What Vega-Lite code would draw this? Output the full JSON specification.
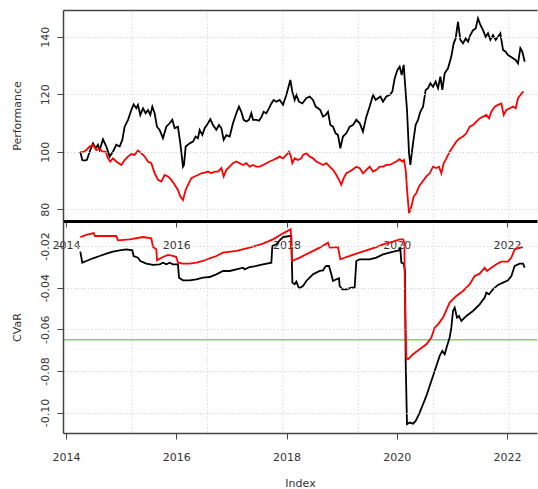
{
  "$schema": "https://vega.github.io/schema/vega-lite/v6.json",
  "background": "white",
  "padding": {"left": 11, "top": 9, "right": 0, "bottom": 0},
  "spacing": 0,
  "bounds": "flush",
  "config": {
    "font": "DejaVu Sans",
    "view": {"stroke": null},
    "axis": {
      "labelFont": "DejaVu Sans", "titleFont": "DejaVu Sans",
      "labelFontSize": 11, "titleFontSize": 11,
      "labelColor": "#333", "titleColor": "#333", "titleFontWeight": "normal",
      "tickColor": "#444", "domainColor": "#444", "domainWidth": 1.5, "tickSize": 6,
      "gridColor": "#d9d9d9", "gridDash": [1.5, 2]
    }
  },
  "datasets": {
    "vgrid": [{"g": 2015.197}, {"g": 2016.565}, {"g": 2017.933}, {"g": 2019.3}, {"g": 2020.668}, {"g": 2022.036}],
    "limit": [{"level": -0.065}],
    "perfA": [
      {"date":2014.26,"value":100.0},{"date":2014.296,"value":97.1},{"date":2014.339,"value":96.9},{"date":2014.381,"value":97.2},
      {"date":2014.429,"value":100.0},{"date":2014.49,"value":102.9},{"date":2014.538,"value":101.2},{"date":2014.58,"value":102.4},
      {"date":2014.611,"value":100.6},{"date":2014.671,"value":104.3},{"date":2014.732,"value":101.8},{"date":2014.792,"value":98.3},
      {"date":2014.852,"value":100.0},{"date":2014.913,"value":102.4},{"date":2014.973,"value":101.8},{"date":2015.022,"value":104.1},
      {"date":2015.064,"value":108.7},{"date":2015.125,"value":111.1},{"date":2015.185,"value":114.5},{"date":2015.227,"value":116.5},
      {"date":2015.276,"value":115.1},{"date":2015.306,"value":116.3},{"date":2015.348,"value":112.8},{"date":2015.397,"value":115.1},
      {"date":2015.445,"value":113.4},{"date":2015.487,"value":114.5},{"date":2015.53,"value":112.8},{"date":2015.566,"value":115.7},
      {"date":2015.608,"value":113.4},{"date":2015.65,"value":108.7},{"date":2015.699,"value":107.6},{"date":2015.759,"value":104.7},
      {"date":2015.82,"value":108.7},{"date":2015.88,"value":109.9},{"date":2015.929,"value":111.1},{"date":2015.971,"value":108.2},
      {"date":2016.031,"value":108.7},{"date":2016.074,"value":102.9},{"date":2016.122,"value":94.8},{"date":2016.14,"value":95.4},
      {"date":2016.171,"value":101.8},{"date":2016.243,"value":102.9},{"date":2016.304,"value":103.5},{"date":2016.352,"value":105.3},
      {"date":2016.394,"value":104.7},{"date":2016.425,"value":107.6},{"date":2016.473,"value":105.8},{"date":2016.515,"value":108.2},
      {"date":2016.576,"value":109.9},{"date":2016.618,"value":111.3},{"date":2016.666,"value":109.3},{"date":2016.727,"value":107.6},
      {"date":2016.775,"value":109.3},{"date":2016.818,"value":108.2},{"date":2016.86,"value":104.1},{"date":2016.908,"value":105.8},
      {"date":2016.969,"value":105.3},{"date":2017.029,"value":109.9},{"date":2017.09,"value":113.4},{"date":2017.138,"value":115.7},
      {"date":2017.18,"value":113.9},{"date":2017.223,"value":111.1},{"date":2017.271,"value":110.5},{"date":2017.319,"value":111.1},
      {"date":2017.362,"value":113.4},{"date":2017.392,"value":111.1},{"date":2017.452,"value":111.1},{"date":2017.501,"value":110.8},
      {"date":2017.549,"value":112.2},{"date":2017.585,"value":113.9},{"date":2017.634,"value":113.4},{"date":2017.682,"value":115.1},
      {"date":2017.725,"value":116.8},{"date":2017.767,"value":118.0},{"date":2017.815,"value":117.4},{"date":2017.876,"value":118.0},
      {"date":2017.936,"value":116.3},{"date":2017.997,"value":119.7},{"date":2018.045,"value":123.2},{"date":2018.069,"value":125.0},
      {"date":2018.105,"value":120.9},{"date":2018.148,"value":118.0},{"date":2018.178,"value":119.7},{"date":2018.226,"value":117.4},
      {"date":2018.287,"value":116.8},{"date":2018.359,"value":118.6},{"date":2018.42,"value":119.2},{"date":2018.48,"value":118.0},
      {"date":2018.529,"value":115.7},{"date":2018.571,"value":115.1},{"date":2018.613,"value":114.5},{"date":2018.662,"value":112.2},
      {"date":2018.71,"value":112.8},{"date":2018.752,"value":113.9},{"date":2018.795,"value":109.3},{"date":2018.843,"value":108.7},
      {"date":2018.891,"value":106.4},{"date":2018.934,"value":105.8},{"date":2018.976,"value":101.2},{"date":2019.024,"value":105.3},
      {"date":2019.085,"value":106.4},{"date":2019.145,"value":108.7},{"date":2019.206,"value":109.3},{"date":2019.266,"value":111.1},
      {"date":2019.327,"value":109.9},{"date":2019.387,"value":107.0},{"date":2019.448,"value":112.2},{"date":2019.508,"value":115.7},
      {"date":2019.569,"value":119.7},{"date":2019.617,"value":118.0},{"date":2019.659,"value":118.6},{"date":2019.702,"value":119.2},
      {"date":2019.75,"value":117.4},{"date":2019.81,"value":119.2},{"date":2019.871,"value":119.7},{"date":2019.919,"value":120.9},
      {"date":2019.962,"value":125.5},{"date":2020.01,"value":128.4},{"date":2020.052,"value":129.6},{"date":2020.089,"value":126.7},
      {"date":2020.125,"value":130.2},{"date":2020.149,"value":123.8},{"date":2020.185,"value":114.5},{"date":2020.222,"value":99.5},
      {"date":2020.246,"value":95.4},{"date":2020.294,"value":102.9},{"date":2020.342,"value":109.3},{"date":2020.385,"value":111.1},
      {"date":2020.427,"value":113.9},{"date":2020.476,"value":115.7},{"date":2020.524,"value":121.5},{"date":2020.566,"value":122.1},
      {"date":2020.609,"value":123.8},{"date":2020.657,"value":122.6},{"date":2020.705,"value":124.4},{"date":2020.748,"value":122.1},
      {"date":2020.79,"value":126.1},{"date":2020.826,"value":121.5},{"date":2020.869,"value":127.3},{"date":2020.929,"value":129.0},
      {"date":2020.989,"value":133.1},{"date":2021.032,"value":137.7},{"date":2021.068,"value":139.4},{"date":2021.11,"value":145.2},
      {"date":2021.153,"value":138.9},{"date":2021.201,"value":137.7},{"date":2021.249,"value":139.4},{"date":2021.292,"value":138.3},
      {"date":2021.334,"value":140.6},{"date":2021.383,"value":142.3},{"date":2021.431,"value":142.9},{"date":2021.473,"value":146.4},
      {"date":2021.516,"value":144.1},{"date":2021.564,"value":142.3},{"date":2021.612,"value":140.0},{"date":2021.655,"value":141.2},
      {"date":2021.697,"value":138.9},{"date":2021.745,"value":140.6},{"date":2021.794,"value":138.9},{"date":2021.836,"value":140.0},
      {"date":2021.878,"value":141.2},{"date":2021.927,"value":135.4},{"date":2021.975,"value":134.8},{"date":2022.017,"value":133.6},
      {"date":2022.06,"value":133.1},{"date":2022.108,"value":132.5},{"date":2022.156,"value":131.9},{"date":2022.199,"value":130.7},
      {"date":2022.241,"value":136.0},{"date":2022.277,"value":134.8},{"date":2022.32,"value":131.3}
    ],
    "perfB": [
      {"date":2014.26,"value":99.7},{"date":2014.32,"value":100.0},{"date":2014.369,"value":100.6},{"date":2014.429,"value":101.8},
      {"date":2014.49,"value":102.4},{"date":2014.55,"value":100.6},{"date":2014.611,"value":101.2},{"date":2014.659,"value":100.0},
      {"date":2014.72,"value":100.0},{"date":2014.762,"value":97.7},{"date":2014.804,"value":96.6},{"date":2014.852,"value":97.7},
      {"date":2014.913,"value":96.6},{"date":2015.004,"value":95.4},{"date":2015.064,"value":97.1},{"date":2015.125,"value":98.3},
      {"date":2015.185,"value":99.2},{"date":2015.246,"value":98.9},{"date":2015.306,"value":100.4},{"date":2015.367,"value":99.5},
      {"date":2015.427,"value":98.3},{"date":2015.487,"value":96.6},{"date":2015.548,"value":96.0},{"date":2015.608,"value":92.5},
      {"date":2015.669,"value":90.2},{"date":2015.729,"value":89.6},{"date":2015.79,"value":91.9},{"date":2015.85,"value":91.4},
      {"date":2015.911,"value":90.2},{"date":2015.971,"value":88.5},{"date":2016.031,"value":86.7},{"date":2016.074,"value":84.4},
      {"date":2016.122,"value":83.2},{"date":2016.171,"value":86.7},{"date":2016.213,"value":88.5},{"date":2016.273,"value":90.8},
      {"date":2016.334,"value":91.4},{"date":2016.394,"value":91.9},{"date":2016.455,"value":92.5},{"date":2016.515,"value":92.7},
      {"date":2016.576,"value":93.1},{"date":2016.636,"value":92.5},{"date":2016.697,"value":93.1},{"date":2016.757,"value":93.1},
      {"date":2016.818,"value":94.3},{"date":2016.86,"value":91.4},{"date":2016.908,"value":93.7},{"date":2016.969,"value":94.8},
      {"date":2017.029,"value":96.0},{"date":2017.09,"value":96.6},{"date":2017.15,"value":96.0},{"date":2017.211,"value":95.4},
      {"date":2017.271,"value":96.0},{"date":2017.332,"value":94.8},{"date":2017.392,"value":95.4},{"date":2017.452,"value":94.8},
      {"date":2017.513,"value":94.8},{"date":2017.573,"value":95.4},{"date":2017.634,"value":96.0},{"date":2017.694,"value":96.6},
      {"date":2017.755,"value":97.1},{"date":2017.815,"value":97.7},{"date":2017.876,"value":98.3},{"date":2017.936,"value":97.7},
      {"date":2017.997,"value":98.9},{"date":2018.045,"value":100.0},{"date":2018.081,"value":98.3},{"date":2018.105,"value":96.0},
      {"date":2018.148,"value":97.7},{"date":2018.208,"value":97.1},{"date":2018.269,"value":97.7},{"date":2018.299,"value":98.9},
      {"date":2018.359,"value":99.5},{"date":2018.42,"value":98.3},{"date":2018.48,"value":97.7},{"date":2018.541,"value":96.6},
      {"date":2018.601,"value":96.0},{"date":2018.662,"value":95.4},{"date":2018.722,"value":96.0},{"date":2018.783,"value":94.8},
      {"date":2018.843,"value":93.7},{"date":2018.904,"value":91.9},{"date":2018.952,"value":90.2},{"date":2018.994,"value":88.5},
      {"date":2019.037,"value":90.8},{"date":2019.085,"value":92.5},{"date":2019.145,"value":93.1},{"date":2019.206,"value":93.9},
      {"date":2019.266,"value":94.8},{"date":2019.327,"value":94.3},{"date":2019.387,"value":92.5},{"date":2019.448,"value":93.7},
      {"date":2019.508,"value":94.8},{"date":2019.569,"value":93.1},{"date":2019.629,"value":93.7},{"date":2019.69,"value":94.8},
      {"date":2019.75,"value":94.8},{"date":2019.81,"value":95.4},{"date":2019.871,"value":95.4},{"date":2019.931,"value":96.0},
      {"date":2019.992,"value":96.6},{"date":2020.052,"value":97.4},{"date":2020.101,"value":96.6},{"date":2020.131,"value":97.1},
      {"date":2020.161,"value":93.7},{"date":2020.191,"value":85.6},{"date":2020.222,"value":78.6},{"date":2020.264,"value":80.9},
      {"date":2020.306,"value":84.4},{"date":2020.355,"value":85.6},{"date":2020.403,"value":87.9},{"date":2020.445,"value":89.0},
      {"date":2020.536,"value":91.4},{"date":2020.597,"value":92.5},{"date":2020.657,"value":94.8},{"date":2020.717,"value":94.3},
      {"date":2020.766,"value":94.8},{"date":2020.808,"value":92.5},{"date":2020.85,"value":96.0},{"date":2020.899,"value":97.7},
      {"date":2020.959,"value":100.0},{"date":2021.02,"value":101.8},{"date":2021.08,"value":103.5},{"date":2021.141,"value":104.7},
      {"date":2021.201,"value":105.3},{"date":2021.262,"value":106.4},{"date":2021.322,"value":108.7},{"date":2021.383,"value":109.3},
      {"date":2021.443,"value":110.5},{"date":2021.503,"value":111.6},{"date":2021.564,"value":112.2},{"date":2021.624,"value":112.8},
      {"date":2021.673,"value":111.6},{"date":2021.715,"value":113.9},{"date":2021.776,"value":115.7},{"date":2021.836,"value":116.3},
      {"date":2021.896,"value":116.8},{"date":2021.939,"value":112.8},{"date":2021.987,"value":114.5},{"date":2022.048,"value":115.1},
      {"date":2022.108,"value":115.7},{"date":2022.156,"value":115.1},{"date":2022.199,"value":118.6},{"date":2022.241,"value":119.7},
      {"date":2022.277,"value":120.6},{"date":2022.301,"value":120.9}
    ],
    "cvarA": [
      {"date":2014.26,"value":-0.0227},{"date":2014.296,"value":-0.028},{"date":2014.369,"value":-0.0272},{"date":2014.49,"value":-0.0259},
      {"date":2014.611,"value":-0.0248},{"date":2014.732,"value":-0.0237},{"date":2014.852,"value":-0.0227},{"date":2014.973,"value":-0.0221},
      {"date":2015.094,"value":-0.0216},{"date":2015.203,"value":-0.0221},{"date":2015.227,"value":-0.0248},{"date":2015.306,"value":-0.0256},
      {"date":2015.348,"value":-0.0272},{"date":2015.457,"value":-0.0285},{"date":2015.578,"value":-0.0291},{"date":2015.699,"value":-0.0288},
      {"date":2015.759,"value":-0.028},{"date":2015.82,"value":-0.0288},{"date":2015.88,"value":-0.028},{"date":2015.941,"value":-0.0288},
      {"date":2016.031,"value":-0.0288},{"date":2016.05,"value":-0.0352},{"date":2016.122,"value":-0.0365},{"date":2016.243,"value":-0.0365},
      {"date":2016.364,"value":-0.036},{"date":2016.485,"value":-0.0352},{"date":2016.606,"value":-0.0349},{"date":2016.727,"value":-0.0336},
      {"date":2016.848,"value":-0.032},{"date":2016.969,"value":-0.032},{"date":2017.09,"value":-0.0312},{"date":2017.211,"value":-0.0304},
      {"date":2017.241,"value":-0.0312},{"date":2017.331,"value":-0.0301},{"date":2017.453,"value":-0.0296},{"date":2017.573,"value":-0.0288},
      {"date":2017.725,"value":-0.028},{"date":2017.743,"value":-0.02},{"date":2017.815,"value":-0.0192},{"date":2017.876,"value":-0.0173},
      {"date":2017.936,"value":-0.0157},{"date":2018.057,"value":-0.0152},{"date":2018.087,"value":-0.0152},{"date":2018.106,"value":-0.0376},
      {"date":2018.148,"value":-0.0384},{"date":2018.178,"value":-0.0371},{"date":2018.226,"value":-0.0403},{"date":2018.299,"value":-0.0392},
      {"date":2018.359,"value":-0.0368},{"date":2018.42,"value":-0.0352},{"date":2018.48,"value":-0.0336},{"date":2018.541,"value":-0.0328},
      {"date":2018.601,"value":-0.032},{"date":2018.662,"value":-0.0317},{"date":2018.692,"value":-0.0304},{"date":2018.722,"value":-0.0296},
      {"date":2018.77,"value":-0.0296},{"date":2018.813,"value":-0.0336},{"date":2018.843,"value":-0.0368},{"date":2018.903,"value":-0.036},
      {"date":2018.952,"value":-0.0355},{"date":2018.964,"value":-0.0392},{"date":2019.012,"value":-0.0408},{"date":2019.085,"value":-0.0408},
      {"date":2019.176,"value":-0.04},{"date":2019.236,"value":-0.04},{"date":2019.266,"value":-0.0272},{"date":2019.327,"value":-0.0264},
      {"date":2019.508,"value":-0.0264},{"date":2019.629,"value":-0.0256},{"date":2019.75,"value":-0.024},{"date":2019.871,"value":-0.0232},
      {"date":2019.992,"value":-0.0224},{"date":2020.04,"value":-0.0221},{"date":2020.064,"value":-0.0211},{"date":2020.083,"value":-0.028},
      {"date":2020.125,"value":-0.0285},{"date":2020.149,"value":-0.032},{"date":2020.161,"value":-0.0752},{"date":2020.185,"value":-0.1056},
      {"date":2020.234,"value":-0.1048},{"date":2020.294,"value":-0.1053},{"date":2020.343,"value":-0.104},{"date":2020.415,"value":-0.1},
      {"date":2020.476,"value":-0.096},{"date":2020.536,"value":-0.092},{"date":2020.596,"value":-0.0872},{"date":2020.657,"value":-0.0824},
      {"date":2020.717,"value":-0.0776},{"date":2020.778,"value":-0.0728},{"date":2020.826,"value":-0.0704},{"date":2020.869,"value":-0.072},
      {"date":2020.911,"value":-0.068},{"date":2020.959,"value":-0.064},{"date":2020.989,"value":-0.0592},{"date":2021.02,"value":-0.0512},
      {"date":2021.05,"value":-0.0496},{"date":2021.092,"value":-0.0544},{"date":2021.128,"value":-0.0536},{"date":2021.171,"value":-0.056},
      {"date":2021.262,"value":-0.0536},{"date":2021.382,"value":-0.0512},{"date":2021.503,"value":-0.048},{"date":2021.594,"value":-0.0448},
      {"date":2021.624,"value":-0.0424},{"date":2021.673,"value":-0.0432},{"date":2021.745,"value":-0.0408},{"date":2021.836,"value":-0.0387},
      {"date":2021.927,"value":-0.0376},{"date":2022.017,"value":-0.0365},{"date":2022.078,"value":-0.0344},{"date":2022.138,"value":-0.0296},
      {"date":2022.229,"value":-0.0285},{"date":2022.289,"value":-0.0285},{"date":2022.32,"value":-0.0304}
    ],
    "cvarB": [
      {"date":2014.26,"value":-0.0157},{"date":2014.369,"value":-0.0147},{"date":2014.502,"value":-0.0138},{"date":2014.526,"value":-0.0152},
      {"date":2014.732,"value":-0.0152},{"date":2014.913,"value":-0.0152},{"date":2014.943,"value":-0.0173},{"date":2015.155,"value":-0.0168},
      {"date":2015.397,"value":-0.0157},{"date":2015.548,"value":-0.0163},{"date":2015.578,"value":-0.0205},{"date":2015.639,"value":-0.0216},
      {"date":2015.651,"value":-0.0269},{"date":2015.759,"value":-0.0253},{"date":2015.85,"value":-0.0243},{"date":2015.941,"value":-0.0248},
      {"date":2016.001,"value":-0.0253},{"date":2016.031,"value":-0.028},{"date":2016.122,"value":-0.0285},{"date":2016.243,"value":-0.0285},
      {"date":2016.364,"value":-0.028},{"date":2016.485,"value":-0.0272},{"date":2016.606,"value":-0.0259},{"date":2016.727,"value":-0.0248},
      {"date":2016.848,"value":-0.0232},{"date":2017.09,"value":-0.0224},{"date":2017.331,"value":-0.0208},{"date":2017.573,"value":-0.0189},
      {"date":2017.755,"value":-0.0168},{"date":2017.906,"value":-0.0144},{"date":2017.997,"value":-0.0131},{"date":2018.075,"value":-0.012},
      {"date":2018.099,"value":-0.0272},{"date":2018.238,"value":-0.0256},{"date":2018.42,"value":-0.0232},{"date":2018.601,"value":-0.0208},
      {"date":2018.752,"value":-0.0184},{"date":2018.783,"value":-0.0208},{"date":2018.933,"value":-0.0205},{"date":2018.976,"value":-0.0264},
      {"date":2019.085,"value":-0.0253},{"date":2019.266,"value":-0.0237},{"date":2019.448,"value":-0.0221},{"date":2019.629,"value":-0.0205},
      {"date":2019.75,"value":-0.0192},{"date":2019.931,"value":-0.0179},{"date":2020.052,"value":-0.0168},{"date":2020.113,"value":-0.0168},
      {"date":2020.137,"value":-0.0184},{"date":2020.149,"value":-0.048},{"date":2020.173,"value":-0.0736},{"date":2020.203,"value":-0.0744},
      {"date":2020.294,"value":-0.072},{"date":2020.415,"value":-0.0696},{"date":2020.536,"value":-0.0672},{"date":2020.627,"value":-0.064},
      {"date":2020.687,"value":-0.0592},{"date":2020.748,"value":-0.0576},{"date":2020.838,"value":-0.0544},{"date":2020.959,"value":-0.0472},
      {"date":2021.08,"value":-0.044},{"date":2021.201,"value":-0.0416},{"date":2021.322,"value":-0.0384},{"date":2021.413,"value":-0.0344},
      {"date":2021.503,"value":-0.0333},{"date":2021.594,"value":-0.0304},{"date":2021.637,"value":-0.032},{"date":2021.715,"value":-0.0304},
      {"date":2021.806,"value":-0.0288},{"date":2021.896,"value":-0.0275},{"date":2022.017,"value":-0.0275},{"date":2022.078,"value":-0.0256},
      {"date":2022.138,"value":-0.0216},{"date":2022.229,"value":-0.0208},{"date":2022.289,"value":-0.0205}
    ]
  },
  "vconcat": [
    {
      "width": 474,
      "height": 211,
      "resolve": {"axis": {"x": "independent"}},
      "layer": [
        {
          "data": {"name": "vgrid"},
          "mark": {"type": "rule", "stroke": "#d9d9d9", "strokeDash": [1.5, 2], "strokeWidth": 1},
          "encoding": {
            "x": {"field": "g", "type": "quantitative", "title": null,
              "scale": {"domain": [2013.946, 2022.543], "nice": false, "zero": false},
              "axis": {"orient": "top", "labels": false, "ticks": false, "grid": false, "domain": true,
                "domainColor": "#444", "domainWidth": 1.5, "zindex": 1}}
          }
        },
        {
          "data": {"name": "perfA"},
          "mark": {"type": "line", "stroke": "#000000", "strokeWidth": 1.8},
          "encoding": {
            "x": {"field": "date", "type": "quantitative", "title": null,
              "axis": {"orient": "bottom", "values": [2014, 2016, 2018, 2020, 2022], "format": "d", "grid": false, "domain": false,
                "tickSize": 6, "labelPadding": 12, "labelFlush": false, "labelOverlap": false}},
            "y": {"field": "value", "type": "quantitative", "title": "Performance",
              "scale": {"domain": [75.9, 149.3], "nice": false, "zero": false},
              "axis": {"values": [80, 90, 100, 110, 120, 130, 140],
                "labelExpr": "datum.value == 110 || datum.value == 130 ? '' : datum.label",
                "labelAngle": -90, "labelAlign": "center", "labelBaseline": "bottom", "labelPadding": 7,
                "labelOverlap": false, "labelBound": false, "labelFlush": false,
                "grid": true, "domain": true, "tickSize": 6, "zindex": 1,
                "titleX": -41, "titleY": 105.5, "titleAngle": -90, "titleBaseline": "bottom", "titleAlign": "center"}}
          }
        },
        {
          "data": {"name": "perfB"},
          "mark": {"type": "line", "stroke": "#ff0000", "strokeWidth": 1.8},
          "encoding": {
            "x": {"field": "date", "type": "quantitative", "axis": null},
            "y": {"field": "value", "type": "quantitative", "title": "Performance"}
          }
        }
      ]
    },
    {
      "width": 474,
      "height": 212,
      "resolve": {"axis": {"x": "independent"}},
      "layer": [
        {
          "data": {"name": "vgrid"},
          "mark": {"type": "rule", "stroke": "#d9d9d9", "strokeDash": [1.5, 2], "strokeWidth": 1},
          "encoding": {
            "x": {"field": "g", "type": "quantitative", "title": null,
              "scale": {"domain": [2013.946, 2022.543], "nice": false, "zero": false},
              "axis": {"orient": "top", "labels": false, "ticks": false, "grid": false, "domain": true,
                "domainColor": "#000000", "domainWidth": 3, "zindex": 1}}
          }
        },
        {
          "data": {"name": "limit"},
          "mark": {"type": "rule", "stroke": "#72d872", "strokeWidth": 1.5},
          "encoding": {
            "y": {"field": "level", "type": "quantitative", "title": "CVaR"}
          }
        },
        {
          "data": {"name": "cvarA"},
          "mark": {"type": "line", "stroke": "#000000", "strokeWidth": 1.8},
          "encoding": {
            "x": {"field": "date", "type": "quantitative", "title": "Index",
              "axis": {"orient": "bottom", "values": [2014, 2016, 2018, 2020, 2022], "format": "d", "grid": false, "domain": true,
                "tickSize": 6, "labelPadding": 12, "labelFlush": false, "labelOverlap": false, "zindex": 1,
                "titleY": 53, "titleBaseline": "alphabetic"}},
            "y": {"field": "value", "type": "quantitative", "title": "CVaR",
              "scale": {"domain": [-0.1098, -0.008], "nice": false, "zero": false},
              "axis": {"values": [-0.1, -0.08, -0.06, -0.04, -0.02],
                "labelExpr": "replace(format(datum.value, '.2f'), '\u2212', '-')",
                "labelAngle": -90, "labelAlign": "center", "labelBaseline": "bottom", "labelPadding": 7,
                "labelOverlap": false, "labelBound": false, "labelFlush": false,
                "grid": true, "domain": true, "tickSize": 6, "zindex": 1,
                "titleX": -41, "titleY": 106, "titleAngle": -90, "titleBaseline": "bottom", "titleAlign": "center"}}
          }
        },
        {
          "data": {"name": "cvarB"},
          "mark": {"type": "line", "stroke": "#ff0000", "strokeWidth": 1.8},
          "encoding": {
            "x": {"field": "date", "type": "quantitative", "axis": null},
            "y": {"field": "value", "type": "quantitative", "title": "CVaR"}
          }
        }
      ]
    }
  ]
}
